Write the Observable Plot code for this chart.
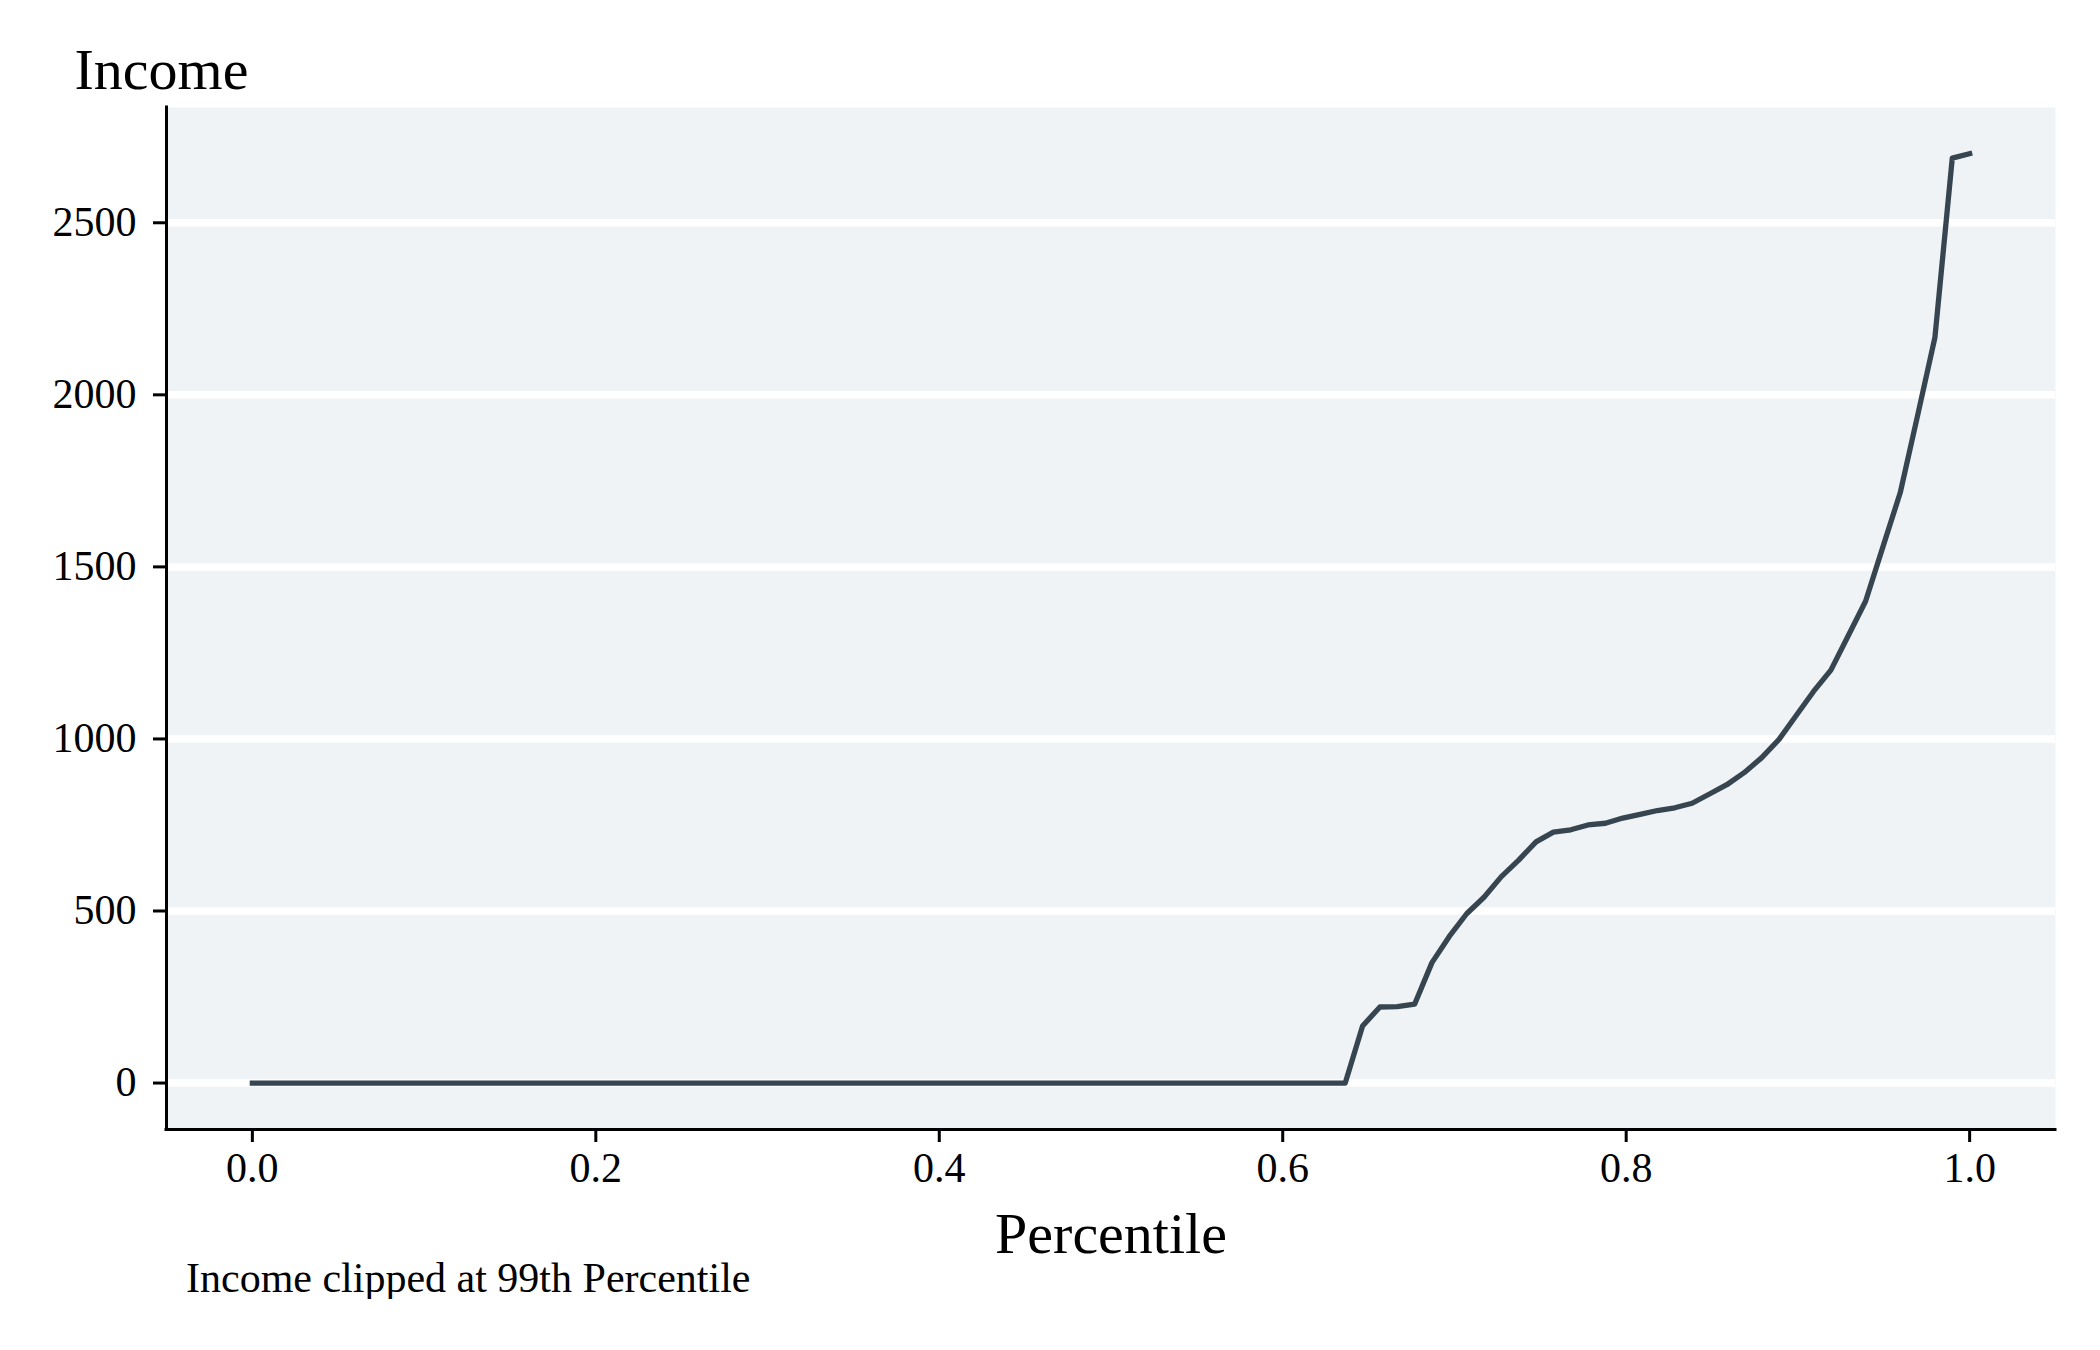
<!DOCTYPE html>
<html>
<head>
<meta charset="utf-8">
<script src="https://cdn.jsdelivr.net/npm/d3@7"></script>
<script src="https://cdn.jsdelivr.net/npm/@observablehq/plot@0.6"></script>
<style>
html, body { margin: 0; padding: 0; background: #fff; overflow: hidden; }
figure { margin: 0; }
figure svg { display: block; }
figcaption { font-family: "Liberation Serif", serif; font-size: 42px; color: #000; padding-left: 186px; line-height: 1; margin: 0; }
</style>
</head>
<body>
<div id="chart"></div>
<script>
const percentiles = [
  0.0000, 0.0101, 0.0202, 0.0303, 0.0404, 0.0505, 0.0606, 0.0707, 0.0808, 0.0909,
  0.1010, 0.1111, 0.1212, 0.1313, 0.1414, 0.1515, 0.1616, 0.1717, 0.1818, 0.1919,
  0.2020, 0.2121, 0.2222, 0.2323, 0.2424, 0.2525, 0.2626, 0.2727, 0.2828, 0.2929,
  0.3030, 0.3131, 0.3232, 0.3333, 0.3434, 0.3535, 0.3636, 0.3737, 0.3838, 0.3939,
  0.4040, 0.4141, 0.4242, 0.4343, 0.4444, 0.4545, 0.4646, 0.4747, 0.4848, 0.4949,
  0.5051, 0.5152, 0.5253, 0.5354, 0.5455, 0.5556, 0.5657, 0.5758, 0.5859, 0.5960,
  0.6061, 0.6162, 0.6263, 0.6364, 0.6465, 0.6566, 0.6667, 0.6768, 0.6869, 0.6970,
  0.7071, 0.7172, 0.7273, 0.7374, 0.7475, 0.7576, 0.7677, 0.7778, 0.7879, 0.7980,
  0.8081, 0.8182, 0.8283, 0.8384, 0.8485, 0.8586, 0.8687, 0.8788, 0.8889, 0.8990,
  0.9091, 0.9192, 0.9293, 0.9394, 0.9495, 0.9596, 0.9697, 0.9798, 0.9899, 1.0000
];
const income = [
  0, 0, 0, 0, 0, 0, 0, 0, 0, 0,
  0, 0, 0, 0, 0, 0, 0, 0, 0, 0,
  0, 0, 0, 0, 0, 0, 0, 0, 0, 0,
  0, 0, 0, 0, 0, 0, 0, 0, 0, 0,
  0, 0, 0, 0, 0, 0, 0, 0, 0, 0,
  0, 0, 0, 0, 0, 0, 0, 0, 0, 0,
  0, 0, 0, 0, 166, 221, 222, 229, 350, 426,
  492, 540, 600, 648, 701, 729, 736, 750, 755, 770,
  781, 792, 800, 813, 840, 867, 902, 945, 998, 1068,
  1138, 1200, 1300, 1400, 1558, 1716, 1940, 2167, 2688, 2701
];
const xTicks = [0, 0.2, 0.4, 0.6, 0.8, 1.0];
const yTicks = [0, 500, 1000, 1500, 2000, 2500];
const yTitle = "Income";
const xTitle = "Percentile";
const captionText = "Income clipped at 99th Percentile";

const data = percentiles.map((p, i) => ({p, v: income[i]}));
const font = "'Liberation Serif', serif";

const chart = Plot.plot({
  width: 2100,
  height: 1257,
  marginLeft: 166,
  marginRight: 45,
  marginTop: 107,
  marginBottom: 128,
  style: `font-family: ${font}; background: #fff; color: #000; overflow: visible;`,
  x: {domain: [-0.05, 1.05]},
  y: {domain: [-135, 2835]},
  caption: captionText,
  marks: [
    Plot.frame({fill: "#eff3f6", stroke: null}),
    Plot.gridY(yTicks, {stroke: "#ffffff", strokeWidth: 7.5, strokeOpacity: 1}),
    Plot.line(data, {x: "p", y: "v", stroke: "#36454f", strokeWidth: 5.3, strokeLinejoin: "round", strokeLinecap: "square"}),
    Plot.ruleX([-0.05], {stroke: "#000", strokeWidth: 3, strokeLinecap: "square"}),
    Plot.ruleY([-135], {stroke: "#000", strokeWidth: 3, strokeLinecap: "square"}),
    Plot.axisY(yTicks, {tickSize: 13, tickPadding: 17, fontSize: 42, strokeWidth: 3, label: null, tickFormat: d => String(d)}),
    Plot.axisX(xTicks, {tickSize: 13, tickPadding: 10, fontSize: 42, strokeWidth: 3, label: null, tickFormat: d3.format(".1f")}),
    Plot.text([yTitle], {text: d => d, frameAnchor: "top-left", dx: -92, dy: -19, textAnchor: "start", lineAnchor: "bottom", fontSize: 58, fill: "#000"}),
    Plot.text([xTitle], {text: d => d, frameAnchor: "bottom", dy: 123, textAnchor: "middle", lineAnchor: "bottom", fontSize: 58, fill: "#000"})
  ]
});
document.getElementById("chart").appendChild(chart);
</script>
</body>
</html>
